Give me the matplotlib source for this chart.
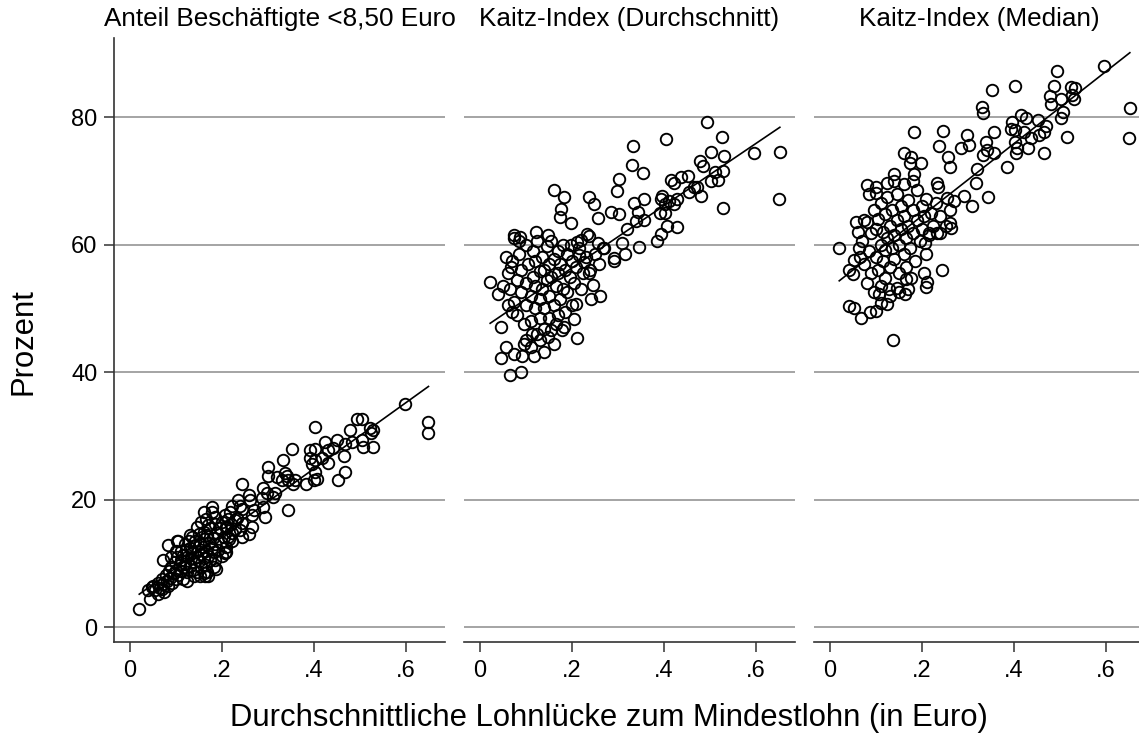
import numpy as np
import matplotlib
matplotlib.use("Agg")
import matplotlib.pyplot as plt

plt.rcParams["font.family"] = ["Liberation Sans", "DejaVu Sans"]

titles = ["Anteil Beschäftigte <8,50 Euro", "Kaitz-Index (Durchschnitt)", "Kaitz-Index (Median)"]
xticks = [0, 0.2, 0.4, 0.6]
xticklabels = ["0", ".2", ".4", ".6"]
yticks = [0, 20, 40, 60, 80]

# linear fit: (intercept, slope)
fits = [(4.16, 51.7), (46.6, 48.7), (53.2, 56.5)]

# panel 1: Anteil Beschaeftigte <8,50 Euro
x1 = [0.020, 0.040, 0.043, 0.047, 0.061, 0.069, 0.072, 0.083, 0.102, 0.152, 0.163, 0.167,
      0.182, 0.185, 0.160, 0.178, 0.178, 0.185, 0.207, 0.214, 0.210, 0.207, 0.210, 0.214, 0.221,
      0.218, 0.221, 0.229, 0.243, 0.239, 0.243, 0.258, 0.265, 0.236, 0.239, 0.243, 0.258, 0.261,
      0.243, 0.265, 0.269, 0.294, 0.287, 0.290, 0.290, 0.298, 0.316, 0.312, 0.343, 0.301, 0.301,
      0.319, 0.337, 0.341, 0.330, 0.345, 0.333, 0.359, 0.355, 0.384, 0.403, 0.407, 0.400, 0.392,
      0.403, 0.396, 0.418, 0.432, 0.465, 0.468, 0.454, 0.352, 0.392, 0.403, 0.432, 0.443, 0.450,
      0.425, 0.483, 0.468, 0.505, 0.508, 0.530, 0.479, 0.522, 0.529, 0.525, 0.494, 0.505, 0.403,
      0.599, 0.650, 0.650,
      0.050, 0.055, 0.060, 0.065, 0.070, 0.072, 0.075, 0.078, 0.080, 0.082, 0.085, 0.088, 0.090,
      0.092, 0.095, 0.098, 0.100, 0.100, 0.102, 0.105, 0.108, 0.110, 0.110, 0.112, 0.115, 0.118,
      0.120, 0.120, 0.122, 0.125, 0.125, 0.128, 0.130, 0.130, 0.132, 0.135, 0.135, 0.138, 0.140,
      0.140, 0.142, 0.145, 0.145, 0.148, 0.150, 0.150, 0.152, 0.155, 0.155, 0.158, 0.160, 0.160,
      0.162, 0.165, 0.165, 0.168, 0.170, 0.172, 0.175, 0.175, 0.178, 0.180, 0.182, 0.185, 0.185,
      0.188, 0.190, 0.192, 0.195, 0.198, 0.200, 0.200, 0.205, 0.210, 0.212, 0.215, 0.220, 0.222,
      0.228, 0.232, 0.115, 0.125, 0.140, 0.160, 0.170, 0.100, 0.090, 0.105, 0.130, 0.145, 0.155,
      0.165, 0.170]
y1 = [2.9, 5.8, 4.5, 6.3, 5.3, 6.0, 10.5, 12.9, 13.6, 8.1, 8.1, 8.7,
      9.5, 10.5, 18.1, 18.9, 18.1, 17.3, 17.6, 17.0, 15.5, 11.6, 11.8, 14.2, 13.6,
      18.1, 19.1, 16.8, 16.3, 15.2, 14.2, 14.7, 15.7, 19.9, 19.1, 18.6, 20.7, 19.9,
      22.5, 17.6, 18.4, 17.3, 20.2, 18.9, 21.8, 21.0, 21.0, 20.4, 18.4, 25.1, 23.8,
      23.5, 24.2, 23.8, 23.1, 23.1, 26.2, 23.1, 22.5, 22.5, 24.4, 23.3, 23.1, 26.5,
      26.2, 25.6, 26.5, 25.7, 26.9, 24.4, 23.1, 27.9, 27.8, 27.9, 27.8, 28.1, 29.4,
      29.0, 29.0, 28.7, 29.3, 28.3, 28.3, 30.9, 31.2, 30.9, 30.4, 32.7, 32.6, 31.4,
      35.0, 32.2, 30.5,
      6.5, 5.8, 7.0, 6.2, 7.5, 6.8, 5.6, 8.2, 7.2, 6.5, 8.8, 7.8, 9.5,
      7.0, 8.5, 10.2, 9.0, 7.6, 11.0, 8.2, 9.8, 12.0, 10.5, 8.8, 11.3, 9.5,
      13.0, 10.0, 12.2, 8.6, 11.0, 13.6, 9.6, 12.4, 10.8, 14.2, 11.6, 9.0, 12.8,
      10.2, 13.5, 11.0, 8.6, 12.0, 14.6, 10.4, 13.0, 11.5, 9.4, 12.6, 15.0, 10.8,
      13.8, 12.0, 9.8, 14.5, 11.2, 13.2, 15.6, 10.5, 12.5, 14.0, 11.8, 16.2, 13.0,
      9.2, 14.8, 12.2, 15.5, 13.4, 16.5, 11.2, 14.2, 12.6, 15.8, 13.8, 16.2, 14.8,
      15.4, 17.2, 7.6, 7.2, 8.0, 8.5, 8.0, 12.0, 11.0, 13.5, 14.5, 15.8, 16.5,
      17.0, 16.0]

# panel 2: Kaitz-Index (Durchschnitt)
x2 = [0.495, 0.528, 0.405, 0.334, 0.597, 0.653, 0.504, 0.531, 0.479, 0.486, 0.332, 0.354,
      0.511, 0.529, 0.504, 0.519, 0.416, 0.437, 0.452, 0.423, 0.466, 0.472, 0.455, 0.482, 0.530,
      0.652, 0.302, 0.299, 0.161, 0.183, 0.176, 0.174, 0.197, 0.237, 0.248, 0.256, 0.285, 0.303,
      0.336, 0.357, 0.343, 0.356, 0.339, 0.321, 0.346, 0.310, 0.315, 0.292, 0.292, 0.397, 0.394,
      0.402, 0.412, 0.428, 0.423, 0.392, 0.402, 0.408, 0.430, 0.394, 0.386, 0.267, 0.256, 0.238,
      0.234, 0.212, 0.219, 0.197, 0.216, 0.227, 0.238, 0.245, 0.241, 0.262, 0.208, 0.205, 0.212,
      0.074, 0.088, 0.121, 0.147, 0.056, 0.067, 0.022, 0.038, 0.045, 0.056, 0.046, 0.065, 0.089,
      0.074, 0.092, 0.118, 0.139, 0.100, 0.114, 0.147, 0.154, 0.179, 0.183,
      0.060, 0.065, 0.070, 0.075, 0.080, 0.080, 0.085, 0.090, 0.090, 0.095, 0.100, 0.100, 0.100,
      0.105, 0.110, 0.110, 0.115, 0.115, 0.120, 0.120, 0.120, 0.125, 0.125, 0.130, 0.130, 0.130,
      0.135, 0.135, 0.140, 0.140, 0.140, 0.145, 0.145, 0.150, 0.150, 0.150, 0.155, 0.155, 0.160,
      0.160, 0.165, 0.165, 0.170, 0.170, 0.175, 0.175, 0.180, 0.180, 0.185, 0.185, 0.190, 0.190,
      0.195, 0.200, 0.200, 0.205, 0.210, 0.215, 0.220, 0.225, 0.230, 0.240, 0.250, 0.260, 0.270,
      0.095, 0.110, 0.130, 0.160, 0.170, 0.070, 0.060, 0.050, 0.085, 0.075]
y2 = [79.3, 76.8, 76.6, 75.5, 74.3, 74.6, 74.6, 73.9, 73.1, 72.3, 72.5, 71.3,
      71.4, 71.6, 70.0, 70.1, 70.1, 70.6, 70.7, 69.7, 69.1, 69.0, 68.3, 67.6, 65.7,
      67.2, 70.3, 68.4, 68.5, 67.5, 65.6, 64.3, 63.4, 67.5, 66.3, 64.1, 65.1, 64.8,
      66.5, 67.1, 65.1, 63.9, 63.7, 62.5, 59.6, 60.2, 58.6, 57.9, 57.5, 67.7, 67.1,
      66.4, 66.8, 67.1, 66.4, 64.9, 65.0, 62.9, 62.8, 61.7, 60.6, 59.4, 60.2, 61.3,
      61.7, 60.4, 60.7, 59.9, 58.3, 57.3, 55.5, 53.6, 51.5, 52.0, 50.7, 48.4, 45.4,
      61.5, 61.2, 62.0, 61.5, 58.0, 56.5, 54.1, 52.3, 47.1, 44.0, 42.3, 39.5, 40.0,
      42.9, 42.6, 42.6, 43.1, 45.0, 46.0, 45.5, 46.6, 46.6, 47.1,
      55.5, 53.0, 57.5, 51.0, 54.5, 49.0, 58.5, 52.5, 56.0, 47.5, 60.0, 54.0, 50.5,
      57.0, 52.0, 48.0, 59.0, 55.0, 50.0, 57.5, 53.5, 46.0, 60.5, 55.8, 51.5, 48.5,
      58.0, 53.0, 56.0, 50.0, 46.8, 59.8, 54.5, 52.0, 57.0, 48.5, 60.5, 55.0, 50.5,
      57.8, 53.5, 47.5, 59.0, 55.5, 51.5, 57.0, 53.0, 60.0, 49.5, 56.0, 58.5, 52.5,
      55.0, 57.5, 50.5, 54.0, 56.5, 59.5, 53.0, 55.5, 58.0, 56.0, 58.5, 57.0, 59.5,
      44.5, 44.0, 45.0, 44.5, 49.0, 49.5, 50.5, 53.5, 60.5, 61.0]

# panel 3: Kaitz-Index (Median)
x3 = [0.597, 0.494, 0.402, 0.352, 0.487, 0.479, 0.482, 0.524, 0.533, 0.528, 0.532, 0.502,
      0.653, 0.651, 0.332, 0.334, 0.508, 0.504, 0.517, 0.415, 0.426, 0.397, 0.394, 0.402, 0.423,
      0.452, 0.470, 0.465, 0.437, 0.455, 0.402, 0.408, 0.405, 0.431, 0.467, 0.386, 0.182, 0.247,
      0.238, 0.256, 0.262, 0.299, 0.303, 0.285, 0.357, 0.339, 0.341, 0.334, 0.357, 0.321, 0.317,
      0.344, 0.292, 0.310, 0.269, 0.160, 0.176, 0.174, 0.197, 0.183, 0.234, 0.235, 0.254, 0.262,
      0.263, 0.240, 0.243, 0.139, 0.125, 0.081, 0.100, 0.085, 0.056, 0.073, 0.020, 0.041, 0.049,
      0.052, 0.063, 0.041, 0.052, 0.067, 0.088, 0.100, 0.110, 0.125, 0.107, 0.129, 0.145, 0.136,
      0.163, 0.176, 0.165, 0.205, 0.212, 0.208, 0.206, 0.216, 0.234, 0.252, 0.262,
      0.070, 0.075, 0.080, 0.085, 0.090, 0.090, 0.095, 0.100, 0.100, 0.105, 0.105, 0.110, 0.110,
      0.115, 0.115, 0.120, 0.120, 0.120, 0.125, 0.125, 0.130, 0.130, 0.135, 0.135, 0.140, 0.140,
      0.145, 0.145, 0.150, 0.150, 0.155, 0.155, 0.160, 0.160, 0.165, 0.165, 0.170, 0.170, 0.175,
      0.180, 0.180, 0.185, 0.190, 0.190, 0.195, 0.200, 0.200, 0.205, 0.210, 0.210, 0.215, 0.220,
      0.225, 0.230, 0.240, 0.060, 0.065, 0.080, 0.095, 0.110, 0.130, 0.150, 0.170, 0.140, 0.160,
      0.180, 0.100]
y3 = [88.0, 87.3, 84.9, 84.3, 84.9, 83.3, 82.1, 84.7, 84.5, 83.5, 82.9, 82.9,
      81.4, 76.7, 81.6, 80.6, 80.8, 79.8, 76.9, 80.3, 79.8, 79.3, 78.2, 78.0, 77.7,
      79.6, 78.6, 77.7, 76.7, 77.2, 76.1, 75.2, 74.4, 75.2, 74.4, 72.1, 77.7, 77.8,
      75.4, 73.8, 72.2, 77.2, 75.6, 75.1, 77.7, 76.1, 74.8, 74.0, 74.3, 71.9, 69.6,
      67.4, 67.7, 66.0, 66.8, 74.4, 73.8, 72.8, 72.8, 71.1, 69.6, 69.1, 67.3, 65.5,
      62.6, 61.8, 56.1, 71.0, 69.6, 69.3, 68.1, 67.9, 63.6, 63.8, 59.5, 56.0, 55.4,
      57.6, 59.4, 50.4, 50.0, 48.5, 49.4, 49.6, 50.8, 50.7, 52.2, 53.1, 53.2, 45.1,
      52.2, 54.8, 54.6, 55.5, 54.1, 53.4, 60.2, 61.9, 61.9, 62.9, 63.4,
      60.5, 57.0, 63.5, 59.0, 55.5, 61.8, 65.5, 58.0, 62.5, 56.0, 64.0, 60.0, 66.5,
      57.5, 62.0, 54.8, 59.2, 64.8, 61.0, 67.5, 56.5, 63.0, 59.5, 65.5, 61.5, 57.8,
      63.8, 68.0, 60.0, 55.5, 62.5, 66.0, 58.5, 64.5, 61.0, 56.5, 67.0, 63.0, 59.5,
      65.5, 61.8, 57.5, 63.8, 68.5, 60.5, 66.0, 62.5, 64.5, 58.5, 67.2, 61.5, 65.0,
      63.0, 66.5, 64.5, 62.0, 58.0, 54.0, 52.5, 53.5, 52.0, 52.5, 53.0, 70.0, 69.5,
      70.0, 69.0]

xs = [x1, x2, x3]
ys = [y1, y2, y3]

W, H = 1139, 739
fig = plt.figure(figsize=(W / 100, H / 100), dpi=100)
lefts = [114, 464, 814]
ax_w, ax_top, ax_bot = 331, 38, 642

grid_c = "#8c8c8c"
spine_c = "#333333"

for i in range(3):
    ax = fig.add_axes([lefts[i] / W, (H - ax_bot) / H, ax_w / W, (ax_bot - ax_top) / H])
    ax.set_xlim(-0.035, 0.686)
    ax.set_ylim(-2.3, 92.4)
    for yv in yticks:
        ax.axhline(yv, color=grid_c, lw=1.1, zorder=1)
    x = np.array(xs[i])
    y = np.array(ys[i])
    ax.plot(x, y, "o", ms=8.3, mfc="none", mec="black", mew=1.35, zorder=3)
    b0, b1 = fits[i]
    xl = np.array([x.min(), x.max()])
    ax.plot(xl, b0 + b1 * xl, color="black", lw=1.2, zorder=4)

    ax.set_xticks(xticks)
    ax.set_xticklabels(xticklabels)
    ax.tick_params(axis="x", length=7, width=1.1, color=spine_c, pad=6, labelsize=17)
    for s in ["top", "right"]:
        ax.spines[s].set_visible(False)
    ax.spines["bottom"].set_color(spine_c)
    ax.spines["bottom"].set_linewidth(1.2)
    if i == 0:
        ax.set_yticks(yticks)
        ax.tick_params(axis="y", length=7, width=1.1, color=spine_c, pad=5, labelsize=17)
        ax.spines["left"].set_color(spine_c)
        ax.spines["left"].set_linewidth(1.2)
    else:
        ax.spines["left"].set_visible(False)
        ax.set_yticks([])
    ax.set_facecolor("none")
    fig.text((lefts[i] + ax_w / 2) / W, (H - 19) / H, titles[i],
             ha="center", va="center", fontsize=18.8)

fig.text(609 / W, (H - 718) / H, "Durchschnittliche Lohnlücke zum Mindestlohn (in Euro)",
         ha="center", va="center", fontsize=22.3)
fig.text(24 / W, (H - 342) / H, "Prozent", rotation=90,
         ha="center", va="center", fontsize=22.3)

fig.savefig("out.png", dpi=100)
